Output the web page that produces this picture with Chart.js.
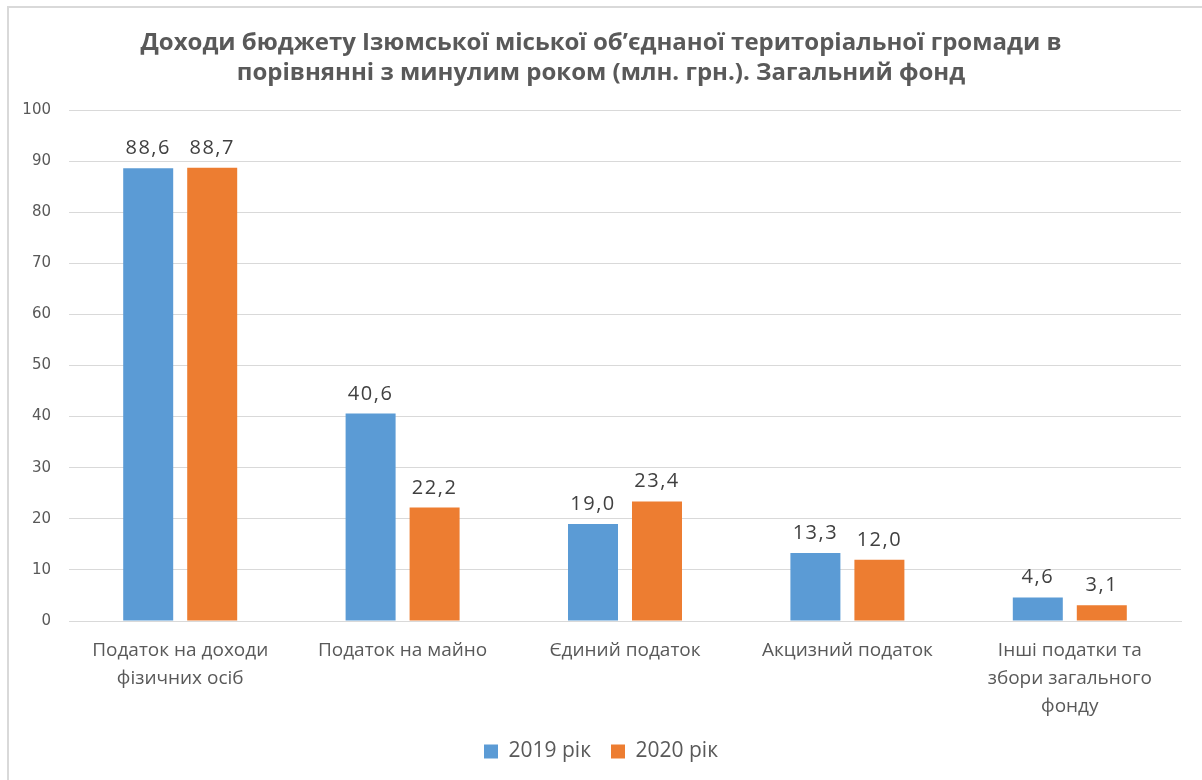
<!DOCTYPE html>
<html>
<head>
<meta charset="utf-8">
<script src="https://cdn.jsdelivr.net/npm/chart.js@4"></script>
<style>
html,body{margin:0;padding:0;background:#fff;overflow:hidden;}
#wrap{position:absolute;left:0;top:0;width:1202px;height:780px;overflow:hidden;}
#frame{position:absolute;left:7px;top:6px;width:1200px;height:780px;border-top:2px solid #d9d9d9;border-left:2px solid #d9d9d9;box-sizing:border-box;}
canvas{position:absolute;left:0;top:0;}
</style>
</head>
<body>
<div id="wrap">
<div id="frame"></div>
<canvas id="c" width="1202" height="780"></canvas>
</div>
<script>
const categories = [
  ["Податок на доходи", "фізичних осіб"],
  "Податок на майно",
  "Єдиний податок",
  "Акцизний податок",
  ["Інші податки та", "збори загального", "фонду"]
];
const series2019 = [88.6, 40.6, 19.0, 13.3, 4.6];
const series2020 = [88.7, 22.2, 23.4, 12.0, 3.1];
const seriesNames = ["2019 рік", "2020 рік"];
const titleLines = [
  "Доходи бюджету Ізюмської міської об’єднаної територіальної громади в",
  "порівнянні з минулим роком (млн. грн.). Загальний фонд"
];

const FONT = "'Open Sans', 'Noto Sans', sans-serif";

const dataLabels = {
  id: 'dataLabels',
  afterDatasetsDraw(chart) {
    const ctx = chart.ctx;
    ctx.save();
    ctx.font = "20px " + FONT;
    if ('letterSpacing' in ctx) ctx.letterSpacing = '1.5px';
    ctx.fillStyle = '#404040';
    ctx.textAlign = 'center';
    ctx.textBaseline = 'alphabetic';
    chart.data.datasets.forEach((ds, i) => {
      const meta = chart.getDatasetMeta(i);
      meta.data.forEach((bar, j) => {
        const v = ds.data[j];
        ctx.fillText(v.toFixed(1).replace('.', ','), bar.x, bar.y - 14);
      });
    });
    ctx.restore();
  }
};

new Chart(document.getElementById('c'), {
  type: 'bar',
  data: {
    labels: categories,
    datasets: [
      { label: seriesNames[0], data: series2019, backgroundColor: '#5b9bd5', barPercentage: 0.78125, categoryPercentage: 0.5755 },
      { label: seriesNames[1], data: series2020, backgroundColor: '#ed7d31', barPercentage: 0.78125, categoryPercentage: 0.5755 }
    ]
  },
  options: {
    responsive: false,
    animation: false,
    layout: { padding: { left: 21, right: 21, top: 12, bottom: 8 } },
    plugins: {
      title: {
        display: true,
        text: titleLines,
        color: '#595959',
        font: { family: FONT, size: 24, weight: 'bold', lineHeight: 1.25 },
        padding: { top: 16, bottom: 22 }
      },
      legend: {
        display: true,
        position: 'bottom',
        labels: {
          color: '#595959',
          font: { family: FONT, size: 21 },
          boxWidth: 14,
          boxHeight: 14,
          padding: 20
        }
      },
      tooltip: { enabled: false }
    },
    scales: {
      x: {
        grid: { display: false, drawTicks: false },
        border: { color: '#d9d9d9', width: 1 },
        ticks: { color: '#595959', font: { family: FONT, size: 19, lineHeight: 1.47 }, maxRotation: 0, padding: 16 },
        afterFit(scale) { scale.height = 100; }
      },
      y: {
        min: 0, max: 100,
        ticks: { stepSize: 10, color: '#595959', font: { family: "'DejaVu Sans', sans-serif", size: 15 }, padding: 18 },
        grid: { color: '#d9d9d9', drawTicks: false },
        border: { display: false },
        afterFit(scale) { scale.width = 48; }
      }
    }
  },
  plugins: [dataLabels]
});
</script>
</body>
</html>
